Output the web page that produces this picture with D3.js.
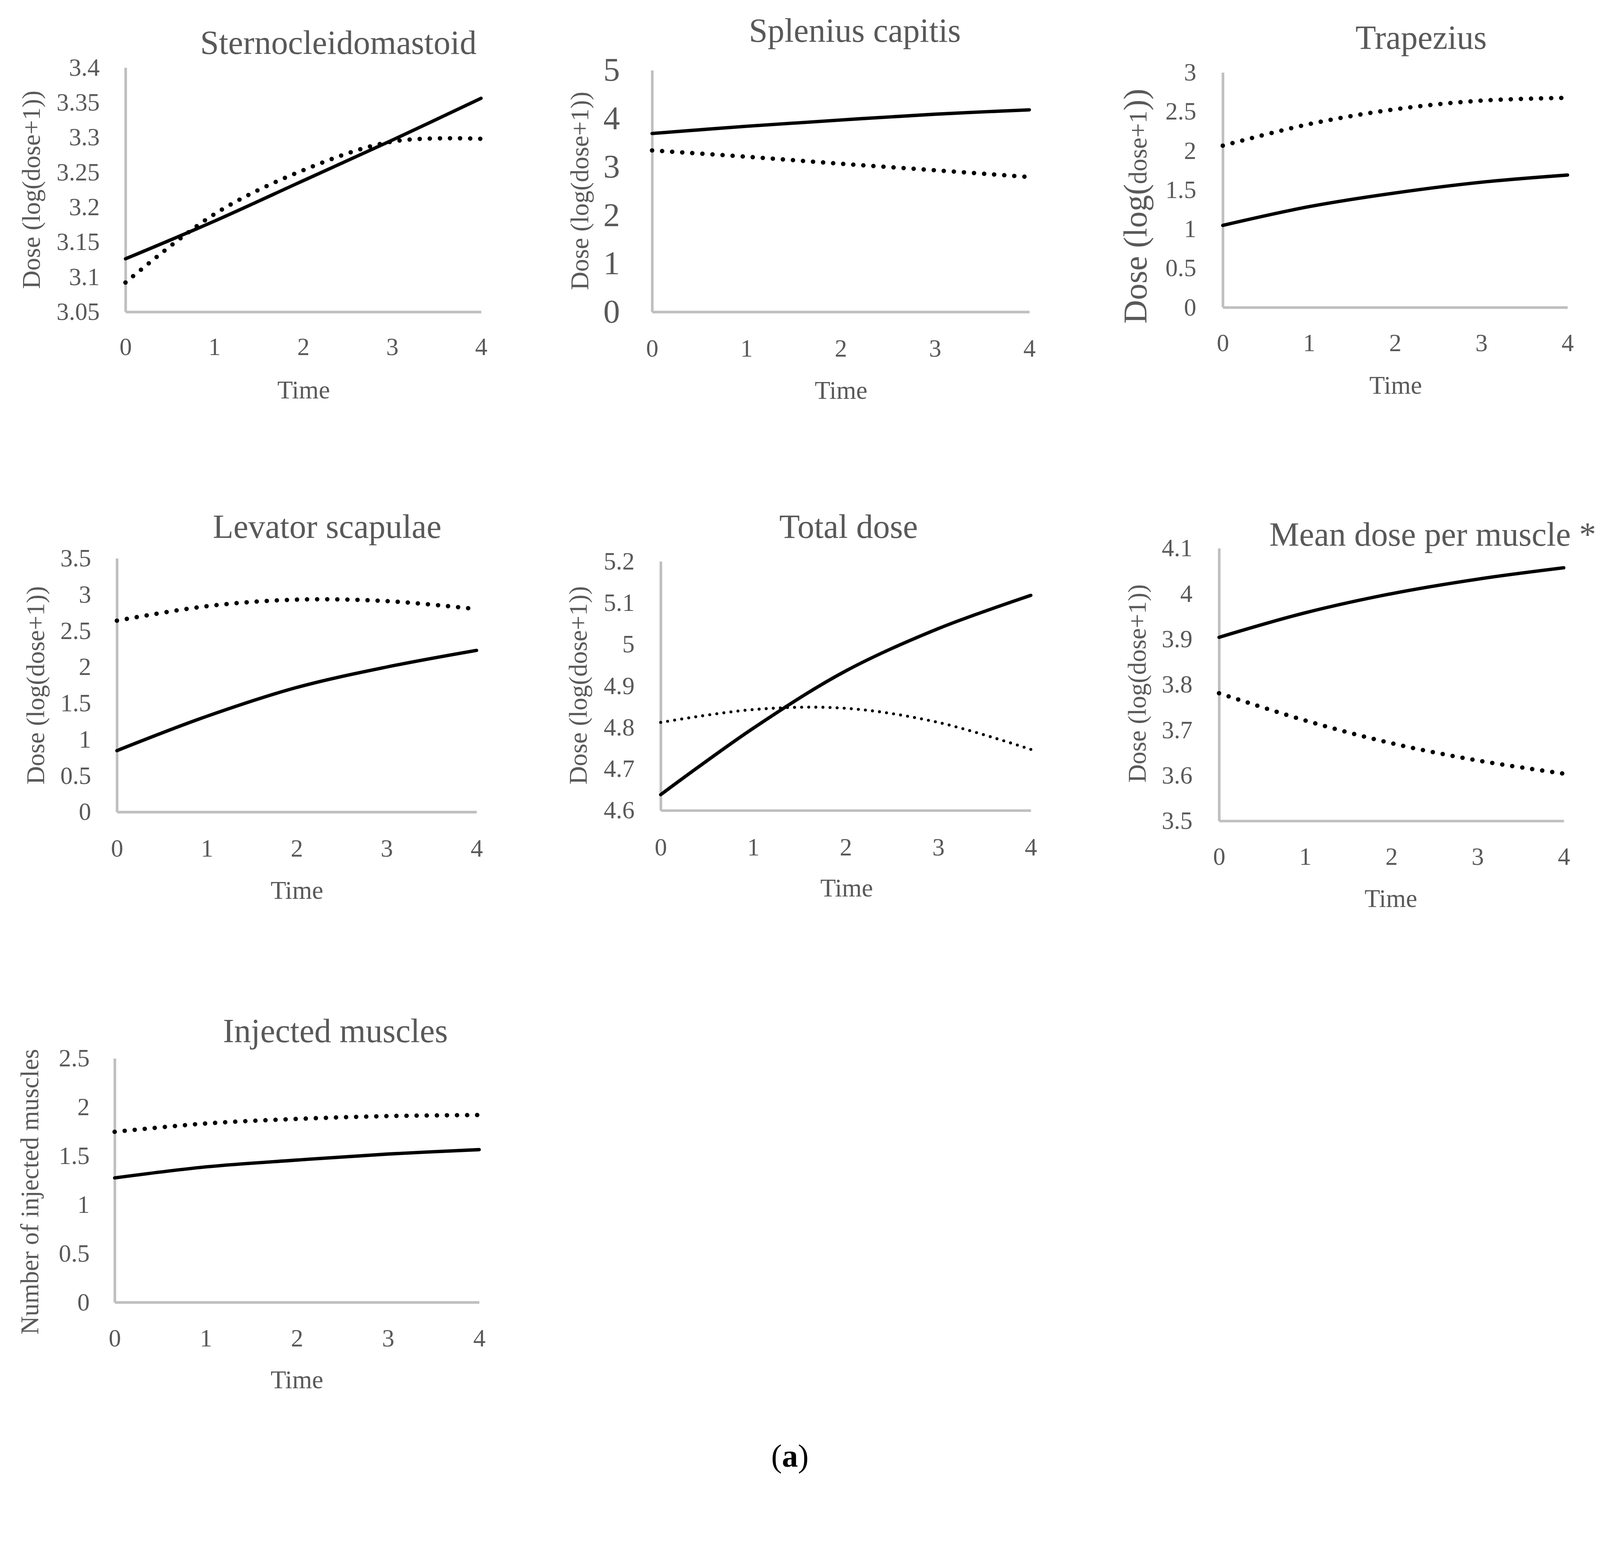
<!DOCTYPE html>
<html>
<head>
<meta charset="utf-8">
<script src="https://cdn.jsdelivr.net/npm/d3@7"></script>
<style>
  html, body { margin: 0; padding: 0; background: #fff; overflow: hidden; }
  svg { display: block; width: 100vw; height: 100vh; }
  text { font-family: "Liberation Serif", "Times New Roman", serif; }
</style>
</head>
<body>
<script>
// x values shared by every panel
var time = [0, 1, 2, 3, 4];

// Sternocleidomastoid
var scmTicks = [3.05, 3.1, 3.15, 3.2, 3.25, 3.3, 3.35, 3.4];
var scmSolid = [3.126, 3.18, 3.238, 3.296, 3.356];
var scmDotted = [3.092, 3.19, 3.253, 3.294, 3.298];

// Splenius capitis
var splTicks = [0, 1, 2, 3, 4, 5];
var splSolid = [3.69, 3.84, 3.97, 4.09, 4.18];
var splDotted = [3.34, 3.21, 3.065, 2.93, 2.79];

// Trapezius
var trapTicks = [0, 0.5, 1, 1.5, 2, 2.5, 3];
var trapSolid = [1.047, 1.286, 1.461, 1.598, 1.69];
var trapDotted = [2.065, 2.34, 2.53, 2.64, 2.676];

// Levator scapulae
var levTicks = [0, 0.5, 1, 1.5, 2, 2.5, 3, 3.5];
var levSolid = [0.846, 1.32, 1.718, 2.0, 2.23];
var levDotted = [2.64, 2.84, 2.93, 2.91, 2.80];

// Total dose
var totTicks = [4.6, 4.7, 4.8, 4.9, 5, 5.1, 5.2];
var totSolid = [4.638, 4.798, 4.936, 5.038, 5.118];
var totDotted = [4.812, 4.843, 4.846, 4.812, 4.747];

// Mean dose per muscle
var meanTicks = [3.5, 3.6, 3.7, 3.8, 3.9, 4, 4.1];
var meanSolid = [3.904, 3.958, 4.0, 4.032, 4.057];
var meanDotted = [3.781, 3.721, 3.671, 3.633, 3.604];

// Injected muscles
var injTicks = [0, 0.5, 1, 1.5, 2, 2.5];
var injSolid = [1.275, 1.388, 1.458, 1.52, 1.565];
var injDotted = [1.748, 1.833, 1.88, 1.909, 1.92];

var doseLabel = "Dose (log(dose+1))";
var grey = "#595959";

var W = 4284, H = 3986;

var svg = d3.select('body').append('svg')
  .attr('viewBox', '0 0 ' + W + ' ' + H)
  .attr('preserveAspectRatio', 'xMidYMin meet');

svg.append('rect').attr('width', W).attr('height', H).style('fill', '#fff');

// layout of each small chart (pixels)
var panels = [
  { title: "Sternocleidomastoid", yLabel: doseLabel, ticks: scmTicks, solid: scmSolid, dotted: scmDotted,
    l: 336, r: 1288, t: 181, b: 835, tickX: 267, tickFont: 66, labY: 928,
    timeX: 813, timeY: 1067, yTitleX: 107, yTitleY: 508, titleX: 906, titleY: 144 },
  { title: "Splenius capitis", yLabel: doseLabel, ticks: splTicks, solid: splSolid, dotted: splDotted,
    l: 1746, r: 2756, t: 188, b: 835, tickX: 1660, tickFont: 89, labY: 933,
    timeX: 2252, timeY: 1068, yTitleX: 1575, yTitleY: 511, titleX: 2289, titleY: 112 },
  { title: "Trapezius", yLabel: doseLabel, ticks: trapTicks, solid: trapSolid, dotted: trapDotted,
    l: 3274, r: 4197, t: 194, b: 823, tickX: 3203, tickFont: 66, labY: 918,
    timeX: 3737, timeY: 1054, yTitleX: 3070, yTitleY: 552, titleX: 3805, titleY: 131, bigTitle: true },
  { title: "Levator scapulae", yLabel: doseLabel, ticks: levTicks, solid: levSolid, dotted: levDotted,
    l: 313, r: 1276, t: 1495, b: 2174, tickX: 244, tickFont: 66, labY: 2271,
    timeX: 795, timeY: 2407, yTitleX: 118, yTitleY: 1835, titleX: 876, titleY: 1440 },
  { title: "Total dose", yLabel: doseLabel, ticks: totTicks, solid: totSolid, dotted: totDotted,
    l: 1769, r: 2760, t: 1503, b: 2170, tickX: 1699, tickFont: 66, labY: 2268,
    timeX: 2267, timeY: 2400, yTitleX: 1571, yTitleY: 1835, titleX: 2272, titleY: 1440, fineDots: true },
  { title: "Mean dose per muscle *", yLabel: doseLabel, ticks: meanTicks, solid: meanSolid, dotted: meanDotted,
    l: 3264, r: 4187, t: 1468, b: 2198, tickX: 3193, tickFont: 66, labY: 2293,
    timeX: 3724, timeY: 2429, yTitleX: 3068, yTitleY: 1830, titleX: 3836, titleY: 1461 },
  { title: "Injected muscles", yLabel: "Number of injected muscles", ticks: injTicks, solid: injSolid, dotted: injDotted,
    l: 307, r: 1283, t: 2834, b: 3487, tickX: 240, tickFont: 66, labY: 3583,
    timeX: 795, timeY: 3717, yTitleX: 103, yTitleY: 3191, titleX: 898, titleY: 2790 }
];

var drawPanel = function(p) {
  var x = d3.scaleLinear().domain([0, 4]).range([p.l, p.r]);
  var y = d3.scaleLinear().domain([p.ticks[0], p.ticks[p.ticks.length - 1]]).range([p.b, p.t]);
  var g = svg.append('g');

  var yAxis = g.append('g')
    .attr('transform', 'translate(' + p.l + ',0)')
    .call(d3.axisLeft(y).tickValues(p.ticks).tickSize(0)
      .tickPadding(p.l - p.tickX).tickFormat(function(d) { return String(d); }));

  var xAxis = g.append('g')
    .attr('transform', 'translate(0,' + p.b + ')')
    .call(d3.axisBottom(x).tickValues(time).tickSize(0)
      .tickPadding(p.labY - p.b - 0.372 * 66).tickFormat(function(d) { return String(d); }));

  yAxis.selectAll('text').style('font-size', p.tickFont + 'px').style('fill', grey);
  xAxis.selectAll('text').style('font-size', '66px').style('fill', grey);
  g.selectAll('.domain').style('stroke', '#bfbfbf').style('stroke-width', 7);

  var line = d3.line()
    .x(function(d, i) { return x(time[i]); })
    .y(function(d) { return y(d); })
    .curve(d3.curveCatmullRom.alpha(0.5));

  g.append('path')
    .attr('d', line(p.solid))
    .style('fill', 'none')
    .style('stroke', '#000')
    .style('stroke-width', 9)
    .style('stroke-linecap', 'round');

  g.append('path')
    .attr('d', line(p.dotted))
    .style('fill', 'none')
    .style('stroke', '#000')
    .style('stroke-width', p.fineDots ? 8 : 12)
    .style('stroke-dasharray', p.fineDots ? '0 19' : '0 27')
    .style('stroke-linecap', 'round');

  // chart title
  g.append('text')
    .attr('x', p.titleX)
    .attr('y', p.titleY)
    .attr('text-anchor', 'middle')
    .style('font-size', '90px')
    .style('fill', grey)
    .text(p.title);

  // x axis title
  g.append('text')
    .attr('x', p.timeX)
    .attr('y', p.timeY)
    .attr('text-anchor', 'middle')
    .style('font-size', '68px')
    .style('fill', grey)
    .text('Time');

  // y axis title
  var yt = g.append('text')
    .attr('transform', 'translate(' + p.yTitleX + ',' + p.yTitleY + ') rotate(-90)')
    .attr('text-anchor', 'middle')
    .style('font-size', '68px')
    .style('fill', grey);

  if (p.bigTitle) {
    yt.style('font-size', '88px');
    yt.append('tspan').text('Dose (log(');
    yt.append('tspan').style('font-size', '68px').text('dose+1');
    yt.append('tspan').text('))');
  } else {
    yt.text(p.yLabel);
  }
};

panels.forEach(drawPanel);

// panel letter
var cap = svg.append('text')
  .attr('x', 2115)
  .attr('y', 3927)
  .attr('text-anchor', 'middle')
  .style('font-size', '86px')
  .style('fill', '#000');
cap.append('tspan').text('(');
cap.append('tspan').style('font-weight', 'bold').text('a');
cap.append('tspan').text(')');
</script>
</body>
</html>
